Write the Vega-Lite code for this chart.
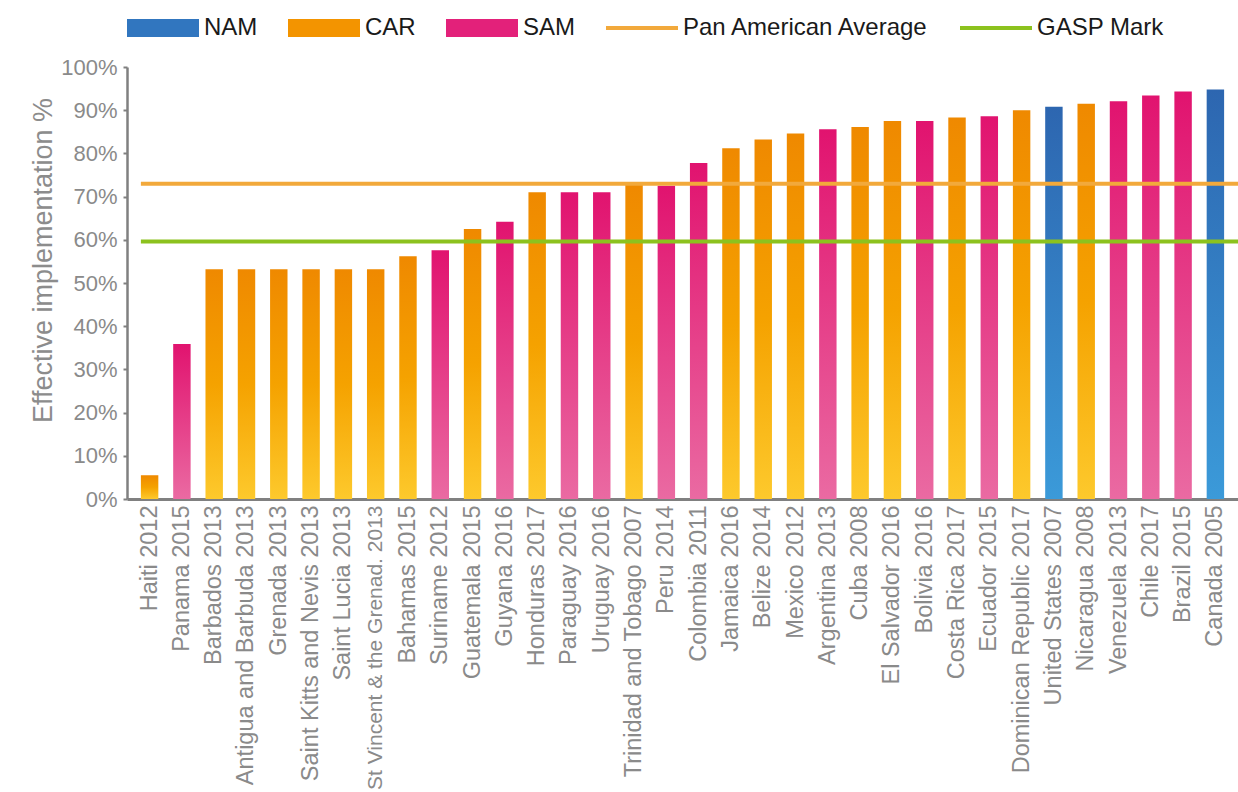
{
  "$schema": "https://vega.github.io/schema/vega-lite/v6.json",
  "width": 1111,
  "height": 432,
  "autosize": "none",
  "padding": {"left": 127, "top": 67, "right": 0, "bottom": 293},
  "background": "white",
  "config": {
    "view": {"stroke": null},
    "font": "Liberation Sans, Arial, sans-serif"
  },
  "datasets": {
    "bars": [
      {"country": "Haiti 2012", "value": 5.5, "region": "CAR"},
      {"country": "Panama 2015", "value": 35.9, "region": "SAM"},
      {"country": "Barbados 2013", "value": 53.2, "region": "CAR"},
      {"country": "Antigua and Barbuda 2013", "value": 53.2, "region": "CAR"},
      {"country": "Grenada 2013", "value": 53.2, "region": "CAR"},
      {"country": "Saint Kitts and Nevis 2013", "value": 53.2, "region": "CAR"},
      {"country": "Saint Lucia 2013", "value": 53.2, "region": "CAR"},
      {"country": "St Vincent & the Grenad. 2013", "value": 53.2, "region": "CAR"},
      {"country": "Bahamas 2015", "value": 56.2, "region": "CAR"},
      {"country": "Suriname 2012", "value": 57.6, "region": "SAM"},
      {"country": "Guatemala 2015", "value": 62.5, "region": "CAR"},
      {"country": "Guyana 2016", "value": 64.2, "region": "SAM"},
      {"country": "Honduras 2017", "value": 71.0, "region": "CAR"},
      {"country": "Paraguay 2016", "value": 71.0, "region": "SAM"},
      {"country": "Uruguay 2016", "value": 71.0, "region": "SAM"},
      {"country": "Trinidad and Tobago 2007", "value": 72.7, "region": "CAR"},
      {"country": "Peru 2014", "value": 72.5, "region": "SAM"},
      {"country": "Colombia 2011", "value": 77.8, "region": "SAM"},
      {"country": "Jamaica 2016", "value": 81.2, "region": "CAR"},
      {"country": "Belize 2014", "value": 83.2, "region": "CAR"},
      {"country": "Mexico 2012", "value": 84.6, "region": "CAR"},
      {"country": "Argentina 2013", "value": 85.6, "region": "SAM"},
      {"country": "Cuba 2008", "value": 86.1, "region": "CAR"},
      {"country": "El Salvador 2016", "value": 87.5, "region": "CAR"},
      {"country": "Bolivia 2016", "value": 87.5, "region": "SAM"},
      {"country": "Costa Rica 2017", "value": 88.3, "region": "CAR"},
      {"country": "Ecuador 2015", "value": 88.6, "region": "SAM"},
      {"country": "Dominican Republic 2017", "value": 90.0, "region": "CAR"},
      {"country": "United States 2007", "value": 90.8, "region": "NAM"},
      {"country": "Nicaragua 2008", "value": 91.5, "region": "CAR"},
      {"country": "Venezuela 2013", "value": 92.1, "region": "SAM"},
      {"country": "Chile 2017", "value": 93.4, "region": "SAM"},
      {"country": "Brazil 2015", "value": 94.3, "region": "SAM"},
      {"country": "Canada 2005", "value": 94.8, "region": "NAM"}
    ],
    "lines": [
      {"series": "Pan American Average", "value": 73.0},
      {"series": "GASP Mark", "value": 59.6}
    ]
  },
  "layer": [
    {
      "data": {"name": "bars"},
      "mark": {"type": "bar"},
      "encoding": {
        "x": {
          "field": "country",
          "type": "nominal",
          "sort": null,
          "scale": {"paddingInner": 0.46, "paddingOuter": 0.43},
          "axis": {
            "title": null,
            "labelAngle": -90,
            "labelFontSize": {"condition": {"test": "datum.value === 'St Vincent & the Grenad. 2013'", "value": 21}, "value": 23.5},
            "labelColor": "#8a8a8a",
            "labelPadding": 6,
            "ticks": false,
            "domainColor": "#808080",
            "domainWidth": 3,
            "labelLimit": 400
          }
        },
        "y": {
          "field": "value",
          "type": "quantitative",
          "scale": {"domain": [0, 100], "nice": false},
          "axis": {
            "title": "Effective implementation %",
            "titleFontSize": 27,
            "titleFontWeight": "normal",
            "titleColor": "#8c8c8c",
            "titlePadding": 3,
            "titleY": 193,
            "values": [0, 10, 20, 30, 40, 50, 60, 70, 80, 90, 100],
            "labelExpr": "datum.value + '%'",
            "labelFontSize": 22,
            "labelColor": "#8a8a8a",
            "labelPadding": 6,
            "tickSize": 4,
            "tickWidth": 2,
            "tickColor": "#808080",
            "domainColor": "#808080",
            "domainWidth": 2.5,
            "grid": false,
            "encode": {"ticks": {"update": {"x": {"value": 7}}}}
          }
        },
        "fill": {
          "condition": [
            {"test": "datum.region === 'NAM'", "value": {"gradient": "linear", "x1": 0, "y1": 0, "x2": 0, "y2": 1, "stops": [{"offset": 0, "color": "#2d66b0"}, {"offset": 1, "color": "#3b9ad9"}]}},
            {"test": "datum.region === 'SAM'", "value": {"gradient": "linear", "x1": 0, "y1": 0, "x2": 0, "y2": 1, "stops": [{"offset": 0, "color": "#e1136f"}, {"offset": 1, "color": "#ea6aa2"}]}}
          ],
          "value": {"gradient": "linear", "x1": 0, "y1": 0, "x2": 0, "y2": 1, "stops": [{"offset": 0, "color": "#ef8900"}, {"offset": 0.5, "color": "#f5a200"}, {"offset": 1, "color": "#fdc92c"}]}
        }
      }
    },
    {
      "data": {"name": "lines"},
      "mark": {"type": "rule", "strokeWidth": 4},
      "encoding": {
        "y": {"field": "value", "type": "quantitative"},
        "x": {"datum": "Haiti 2012", "bandPosition": 0},
        "x2": {"value": {"expr": "width"}},
        "color": {
          "field": "series",
          "type": "nominal",
          "scale": {
            "domain": ["NAM", "CAR", "SAM", "Pan American Average", "GASP Mark"],
            "range": ["#3176bf", "#f39400", "#e3217a", "#f2a93b", "#8cc21e"]
          },
          "legend": {
            "title": null,
            "orient": "top",
            "direction": "horizontal",
            "offset": 27,
            "labelFontSize": 24,
            "labelColor": "#1a1a1a",
            "labelFont": "Liberation Sans, Arial, sans-serif",
            "labelLimit": 400,
            "symbolSize": 5184,
            "labelOffset": 5,
            "columnPadding": 30,
            "encode": {
              "symbols": {
                "update": {
                  "shape": {"signal": "indexof(['Pan American Average','GASP Mark'], datum.value) >= 0 ? 'M-1,-0.055H1V0.055H-1Z' : 'M-1,-0.25H1V0.25H-1Z'"},
                  "fill": {"scale": "color", "field": "value"},
                  "strokeWidth": {"value": 0}
                }
              }
            }
          }
        }
      }
    }
  ]
}
